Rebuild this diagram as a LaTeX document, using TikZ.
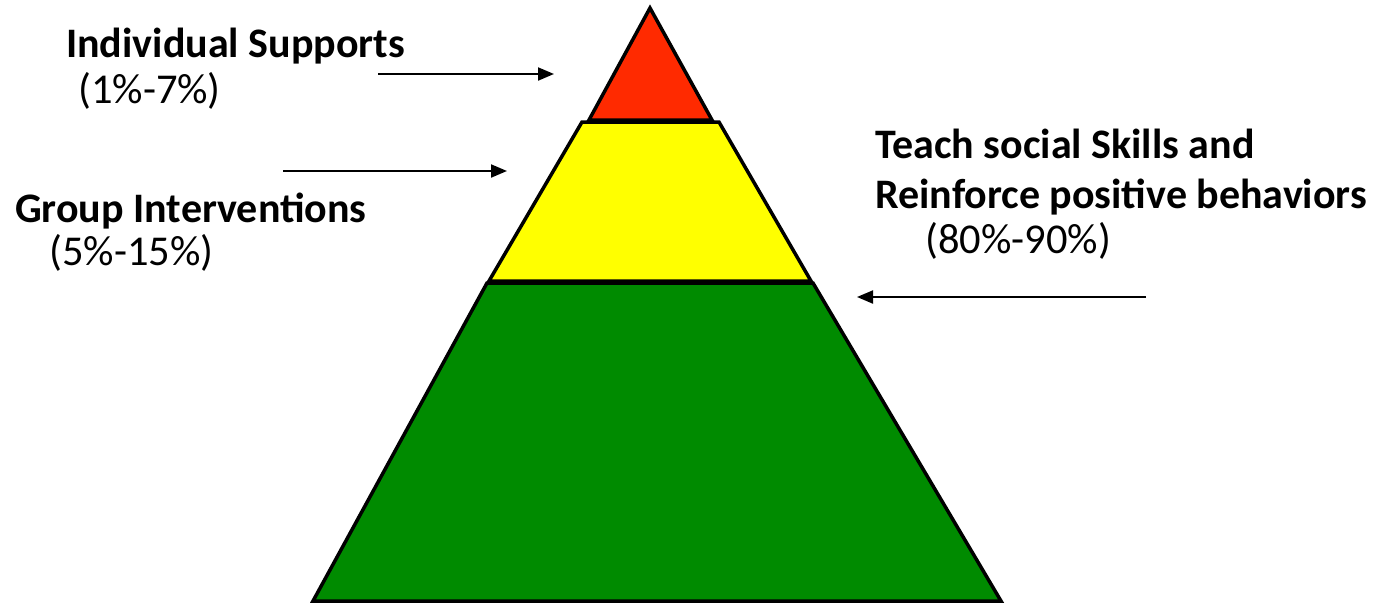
\documentclass[tikz,border=0pt]{standalone}
\usepackage{fontspec}
\setmainfont{Carlito}
\usetikzlibrary{arrows.meta}
\definecolor{tierred}{RGB}{255,42,0}
\definecolor{tieryellow}{RGB}{255,255,0}
\definecolor{tiergreen}{RGB}{0,139,0}
\tikzset{
  tier/.style={draw=black, line width=3.5pt, line join=miter},
  pointer/.style={draw=black, line width=2pt, -{Triangle[length=16pt,width=13pt]}},
  heading/.style={anchor=base west, inner sep=0pt, font=\fontsize{42}{50}\selectfont\bfseries},
  share/.style={anchor=base west, inner sep=0pt, font=\fontsize{42.5}{50}\selectfont},
}
\begin{document}
\begin{tikzpicture}[x=1pt,y=-1pt]
\useasboundingbox (0,0) rectangle (1393,603);
% tiers
\filldraw[tier, fill=tiergreen] (487,283) -- (813,283) -- (1001,601) -- (313,601) -- cycle;
\filldraw[tier, fill=tieryellow] (582,122) -- (719,122) -- (811,281) -- (489,281) -- cycle;
\filldraw[tier, fill=tierred] (650,8) -- (712,120) -- (589,120) -- cycle;
% labels
\node[heading] (ind) at (66,57) {Individual Supports};
\node[share] (indp) at (78,103) {(1\%-7\%)};
\node[heading] (grp) at (15,222) {Group Interventions};
\node[share] (grpp) at (49,265) {(5\%-15\%)};
\node[heading] (teach) at (875,158) {Teach social Skills and};
\node[heading] (reinf) at (875,208) {Reinforce positive behaviors};
\node[share] (reinfp) at (925,253) {(80\%-90\%)};
% arrows
\coordinate (a1s) at (378,74);
\coordinate (a1e) at (554,74);
\coordinate (a2s) at (283,171);
\coordinate (a2e) at (507,171);
\coordinate (a3s) at (1146,297);
\coordinate (a3e) at (857,297);
\draw[pointer] (a1s) -- (a1e);
\draw[pointer] (a2s) -- (a2e);
\draw[pointer] (a3s) -- (a3e);
\end{tikzpicture}
\end{document}
